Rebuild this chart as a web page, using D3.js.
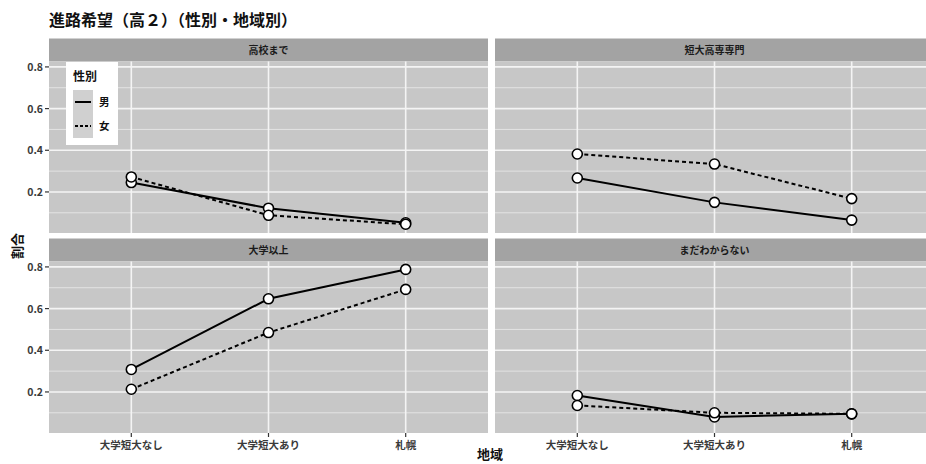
<!DOCTYPE html>
<html>
<head>
<meta charset="utf-8">
<script src="https://cdn.jsdelivr.net/npm/d3@7/dist/d3.min.js"></script>
<style>
  html, body { margin: 0; padding: 0; background: #fff; }
  svg { display: block; font-family: "Noto Sans CJK JP", "Noto Sans", sans-serif; }
</style>
</head>
<body>
<svg id="chart" width="926" height="464"></svg>
<script>
// Regions (x axis), facets and sexes
const regions = ["大学短大なし", "大学短大あり", "札幌"];
const facets = ["高校まで", "短大高専専門", "大学以上", "まだわからない"];
const sexes = ["男", "女"];

// Share of students per facet, one array per sex (in region order)
const maleValues = [
  [0.245, 0.122, 0.052],
  [0.267, 0.150, 0.065],
  [0.308, 0.647, 0.788],
  [0.183, 0.080, 0.095]
];
const femaleValues = [
  [0.272, 0.088, 0.045],
  [0.382, 0.334, 0.168],
  [0.213, 0.485, 0.692],
  [0.135, 0.100, 0.095]
];

const yMajorTicks = [0.2, 0.4, 0.6, 0.8];
const yMinorTicks = [0.1, 0.3, 0.5, 0.7];
const yTickLabels = ["0.2", "0.4", "0.6", "0.8"];

const titleText = "進路希望（高２）（性別・地域別）";
const xTitle = "地域";
const yTitle = "割合";
const legendTitle = "性別";

const svg = d3.select("#chart");

const panelW = 439, panelH = 171.5, stripH = 23;
const colX = [49, 495];
const rowY = [61.5, 261.5]; // top of each panel (below strip)

const x = d3.scalePoint().domain(regions).range([0, panelW]).padding(0.6);
const y = d3.scaleLinear().domain([0.003, 0.826]).range([panelH, 0]);

const clip = svg.append("defs").append("clipPath").attr("id", "pageclip");
clip.append("rect").attr("x", 0).attr("y", 0).attr("width", 926).attr("height", 464);

const root = svg.append("g").attr("clip-path", "url(#pageclip)");

// Title
svg.append("text")
  .attr("x", 49).attr("y", 26)
  .attr("font-size", 16).attr("font-weight", "bold").attr("fill", "#111")
  .text(titleText);

const line = d3.line().x((d, i) => x(regions[i])).y(d => y(d));

facets.forEach((facet, fi) => {
  const col = fi % 2, row = Math.floor(fi / 2);
  const g = root.append("g").attr("transform", `translate(${colX[col]},${rowY[row]})`);

  // strip
  g.append("rect").attr("x", 0).attr("y", -stripH).attr("width", panelW).attr("height", stripH)
    .attr("fill", "#a3a3a3");
  g.append("text").attr("x", panelW / 2).attr("y", -stripH / 2 + 3.5)
    .attr("text-anchor", "middle").attr("font-size", 10).attr("font-weight", "bold")
    .attr("fill", "#1a1a1a").text(facet);

  // panel background
  g.append("rect").attr("x", 0).attr("y", 0).attr("width", panelW).attr("height", panelH)
    .attr("fill", "#c7c7c7");

  // grid
  g.selectAll(".minor").data(yMinorTicks).join("line")
    .attr("x1", 0).attr("x2", panelW).attr("y1", d => y(d)).attr("y2", d => y(d))
    .attr("stroke", "#e6e6e6").attr("stroke-width", 0.9);
  g.selectAll(".major").data(yMajorTicks).join("line")
    .attr("x1", 0).attr("x2", panelW).attr("y1", d => y(d)).attr("y2", d => y(d))
    .attr("stroke", "#f4f4f4").attr("stroke-width", 1.6);
  g.selectAll(".vmajor").data(regions).join("line")
    .attr("x1", d => x(d)).attr("x2", d => x(d)).attr("y1", 0).attr("y2", panelH)
    .attr("stroke", "#f4f4f4").attr("stroke-width", 1.6);

  // lines
  g.append("path").datum(maleValues[fi]).attr("d", line)
    .attr("fill", "none").attr("stroke", "#000").attr("stroke-width", 2);
  g.append("path").datum(femaleValues[fi]).attr("d", line)
    .attr("fill", "none").attr("stroke", "#000").attr("stroke-width", 2)
    .attr("stroke-dasharray", "4,3");

  // points
  [maleValues[fi], femaleValues[fi]].forEach(vals => {
    g.selectAll(null).data(vals).join("circle")
      .attr("cx", (d, i) => x(regions[i])).attr("cy", d => y(d)).attr("r", 5)
      .attr("fill", "#fff").attr("stroke", "#000").attr("stroke-width", 1.6);
  });

  // y axis on left column
  if (col === 0) {
    const ya = g.append("g");
    ya.selectAll("line").data(yMajorTicks).join("line")
      .attr("x1", -4).attr("x2", 0).attr("y1", d => y(d)).attr("y2", d => y(d))
      .attr("stroke", "#333").attr("stroke-width", 1.2);
    ya.selectAll("text").data(yMajorTicks).join("text")
      .attr("x", -6).attr("y", d => y(d) + 4)
      .attr("text-anchor", "end").attr("font-size", 10.5).attr("font-weight", "bold")
      .attr("fill", "#3a3a3a")
      .text((d, i) => yTickLabels[i]);
  }
  // x axis on bottom row
  if (row === 1) {
    const xa = g.append("g").attr("transform", `translate(0,${panelH})`);
    xa.selectAll("line").data(regions).join("line")
      .attr("x1", d => x(d)).attr("x2", d => x(d)).attr("y1", 0).attr("y2", 4)
      .attr("stroke", "#333").attr("stroke-width", 1.2);
    xa.selectAll("text").data(regions).join("text")
      .attr("x", d => x(d)).attr("y", 16)
      .attr("text-anchor", "middle").attr("font-size", 10.5).attr("font-weight", "bold")
      .attr("fill", "#3a3a3a").text(d => d);
  }
});

// Axis titles
svg.append("text").attr("x", 490).attr("y", 459)
  .attr("text-anchor", "middle").attr("font-size", 13).attr("font-weight", "bold")
  .attr("fill", "#111").text(xTitle);
svg.append("text")
  .attr("transform", "translate(22,246) rotate(-90)")
  .attr("text-anchor", "middle").attr("font-size", 13).attr("font-weight", "bold")
  .attr("fill", "#111").text(yTitle);

// Legend
const lg = svg.append("g").attr("transform", "translate(66,62)");
lg.append("rect").attr("x", 0).attr("y", 0).attr("width", 52).attr("height", 83).attr("fill", "#fff");
lg.append("text").attr("x", 7).attr("y", 19).attr("font-size", 12).attr("font-weight", "bold")
  .attr("fill", "#111").text(legendTitle);
sexes.forEach((s, i) => {
  const ky = 28 + i * 24;
  lg.append("rect").attr("x", 7).attr("y", ky).attr("width", 20).attr("height", 24).attr("fill", "#d0d0d0");
  lg.append("line").attr("x1", 9).attr("x2", 25).attr("y1", ky + 12).attr("y2", ky + 12)
    .attr("stroke", "#000").attr("stroke-width", 2)
    .attr("stroke-dasharray", i === 0 ? null : "3,2");
  lg.append("text").attr("x", 33).attr("y", ky + 16).attr("font-size", 10.5).attr("font-weight", "bold")
    .attr("fill", "#111").text(s);
});
</script>
</body>
</html>
